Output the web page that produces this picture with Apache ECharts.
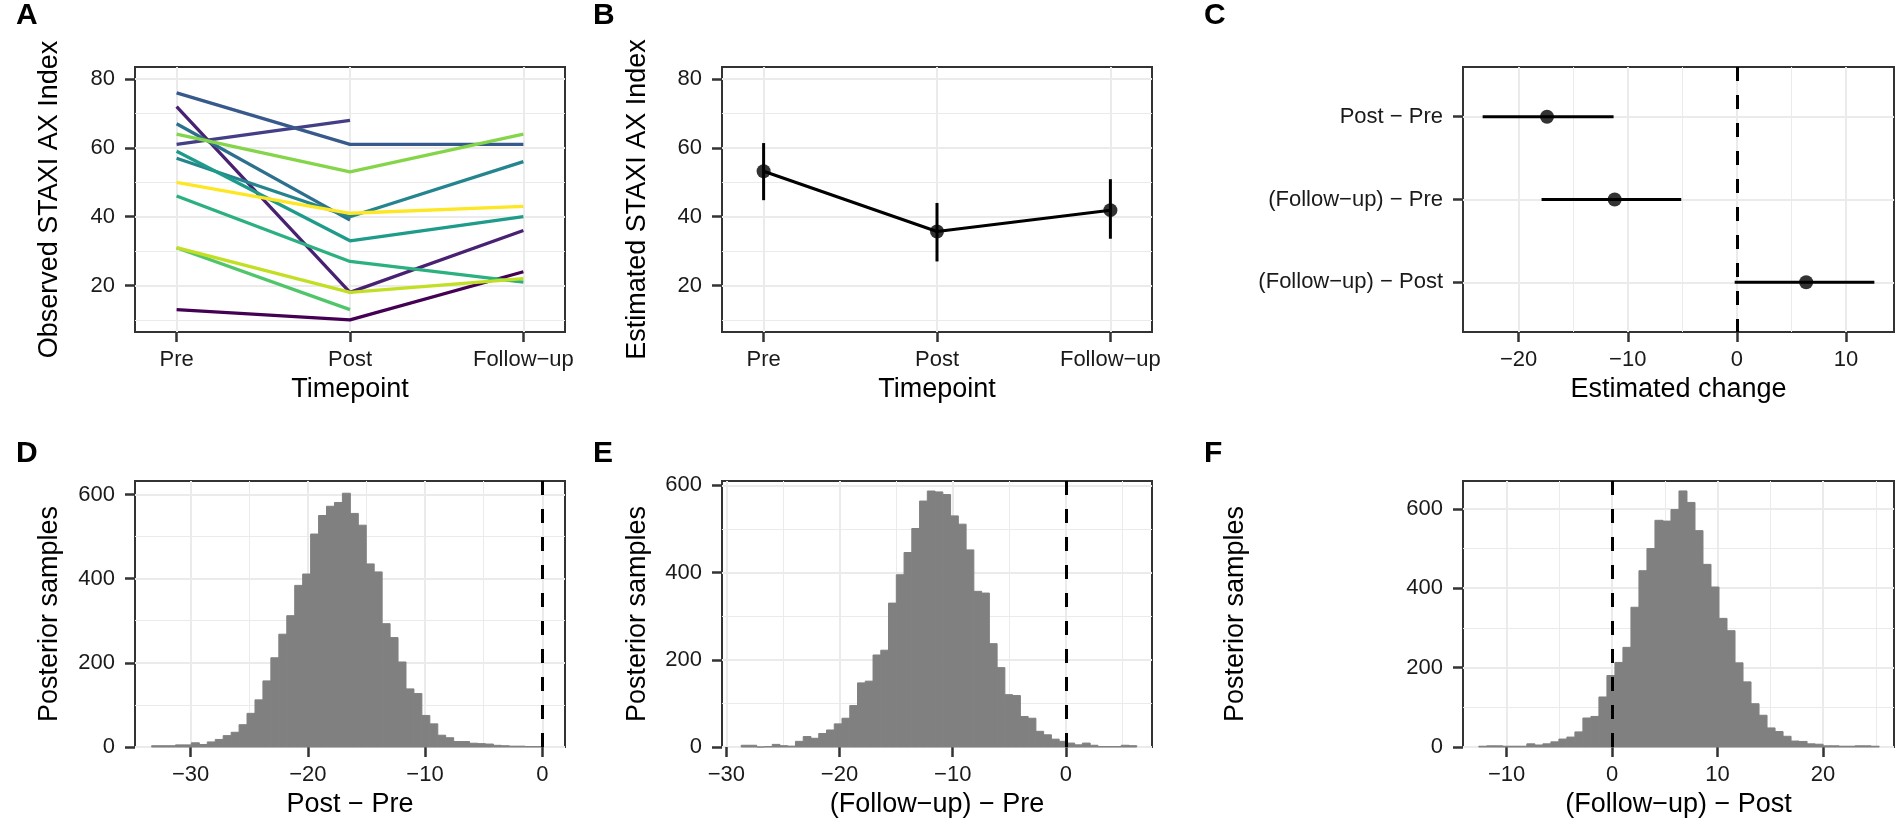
<!DOCTYPE html>
<html>
<head>
<meta charset="utf-8">
<title>STAXI AX Index</title>
<script src="https://cdn.jsdelivr.net/npm/echarts@6/dist/echarts.min.js"></script>
<style>
html, body { margin: 0; padding: 0; background: #fff; }
#main { width: 1901px; height: 830px; }
</style>
</head>
<body>
<div id="main"></div>
<script>
// A: observed values per subject (null = missing)
var timepoints = ['Pre', 'Post', 'Follow\u2212up'];
var obsPre      = [13, 72, 61, 76, 67, 57, 59, 46, 31, 64, 31, 50];
var obsPost     = [10, 18, 68, 61, 39, 40, 33, 27, 13, 53, 18, 41];
var obsFollowUp = [24, 36, null, 61, null, 56, 40, 21, null, 64, 22, 43];

// B: estimated index with intervals
var estMean = [53.2, 35.7, 41.9];
var estLow  = [44.8, 27.0, 33.6];
var estHigh = [61.4, 44.0, 50.9];

// C: estimated change
var contrasts = ['Post \u2212 Pre', '(Follow\u2212up) \u2212 Pre', '(Follow\u2212up) \u2212 Post'];
var chgMean = [-17.4, -11.2, 6.35];
var chgLow  = [-23.3, -17.9, -0.2];
var chgHigh = [-11.3, -5.1, 12.6];

// D, E, F: posterior sample histograms (first bin edge, bin width, counts)
var postPreStart = -33.32, postPreWidth = 0.678;
var postPreCounts = [3,3,3,5,5,10,6,12,18,27,35,53,80,112,157,212,268,312,384,411,506,550,572,581,603,555,527,435,416,293,260,202,138,127,75,55,28,22,13,13,9,8,7,4,3,2,2,1,1];
var fuPreStart = -28.685, fuPreWidth = 0.685;
var fuPreCounts = [4,4,0,1,6,3,2,13,24,20,31,39,53,66,95,147,151,211,222,330,395,446,501,564,587,585,579,530,511,452,357,353,237,182,120,118,70,66,36,28,18,13,9,5,9,4,1,1,1,4,3];
var fuPostStart = -12.63, fuPostWidth = 0.759;
var fuPostCounts = [2,3,3,2,2,2,8,5,8,13,20,25,38,73,77,126,180,213,251,352,444,500,571,569,598,645,616,545,460,403,324,293,212,164,109,80,48,39,27,15,14,8,7,3,3,2,2,3,3,2];

var subjectColors = ['#440154','#482173','#433E85','#38598C','#2D708E','#25858E','#1E9B8A','#2BB07F','#51C56A','#85D54A','#C2DF23','#FDE725'];
var FONT = '"Liberation Sans", Arial, sans-serif';

function minus(v) {
    return v < 0 ? '\u2212' + Math.abs(v) : String(v);
}

// main axis + a hidden twin that only draws the minor grid
function makeAxes(g, o) {
    var main = {
        type: 'value', gridIndex: g, min: o.min, max: o.max, inverse: !!o.inverse,
        axisLine: { show: false, onZero: false },
        axisTick: { show: true, customValues: o.major, length: 10, lineStyle: { color: '#333', width: 2.5 } },
        axisLabel: { customValues: o.major, formatter: o.fmt || minus, margin: o.margin, fontSize: 22, color: '#1a1a1a', fontFamily: FONT },
        splitLine: { show: true, lineStyle: { color: '#EBEBEB', width: 2 } },
        name: o.name, nameLocation: 'middle', nameGap: o.nameGap,
        nameTextStyle: { fontSize: 27, color: '#000', fontFamily: FONT }
    };
    var minor = {
        type: 'value', gridIndex: g, min: o.min, max: o.max, inverse: !!o.inverse,
        axisLine: { show: false, onZero: false },
        axisTick: { show: false, customValues: o.minor || [] },
        axisLabel: { show: false, customValues: o.minor || [] },
        splitLine: { show: !!(o.minor && o.minor.length), lineStyle: { color: '#EBEBEB', width: 1 } }
    };
    return [main, minor];
}

function histItem(params, api) {
    var p0 = api.coord([api.value(0), api.value(2)]);
    var p1 = api.coord([api.value(1), 0]);
    return {
        type: 'rect',
        shape: { x: p0[0], y: p0[1], width: p1[0] - p0[0], height: p1[1] - p0[1] },
        style: { fill: '#808080', stroke: '#808080', lineWidth: 1 }
    };
}

function histSeries(g, start, width, counts) {
    var data = counts.map(function (n, i) {
        return [start + i * width, start + (i + 1) * width, n];
    });
    return {
        type: 'custom', xAxisIndex: 2 * g, yAxisIndex: 2 * g, silent: true,
        encode: { x: [0, 1], y: 2 }, data: data, renderItem: histItem
    };
}

function zeroLine(g) {
    return {
        type: 'line', xAxisIndex: 2 * g, yAxisIndex: 2 * g, data: [], silent: true,
        markLine: {
            silent: true, symbol: 'none', label: { show: false },
            lineStyle: { color: '#000', width: 3, type: [14, 14] },
            data: [{ xAxis: 0 }]
        }
    };
}

var gridBox = { show: true, borderColor: '#333', borderWidth: 2, backgroundColor: '#fff', outerBoundsMode: 'none' };
var grids = [
    { left: 135,  top: 67,  width: 430, height: 265 },
    { left: 722,  top: 67,  width: 430, height: 265 },
    { left: 1463, top: 67,  width: 431, height: 265 },
    { left: 135,  top: 481, width: 430, height: 266 },
    { left: 722,  top: 481, width: 430, height: 266 },
    { left: 1463, top: 481, width: 431, height: 266 }
].map(function (g) { return Object.assign({}, gridBox, g); });

function tpName(v) { return timepoints[v]; }
function ctName(v) { return contrasts[v]; }

var xAxes = [].concat(
    makeAxes(0, { min: -0.24, max: 2.24, major: [0, 1, 2], fmt: tpName, margin: 17, name: 'Timepoint', nameGap: 44 }),
    makeAxes(1, { min: -0.24, max: 2.24, major: [0, 1, 2], fmt: tpName, margin: 17, name: 'Timepoint', nameGap: 44 }),
    makeAxes(2, { min: -25.1, max: 14.4, major: [-20, -10, 0, 10], minor: [-15, -5, 5], margin: 17, name: 'Estimated change', nameGap: 44 }),
    makeAxes(3, { min: -34.74, max: 1.94, major: [-30, -20, -10, 0], minor: [-25, -15, -5], margin: 17, name: 'Post \u2212 Pre', nameGap: 44 }),
    makeAxes(4, { min: -30.38, max: 7.6, major: [-30, -20, -10, 0], minor: [-25, -15, -5, 5], margin: 17, name: '(Follow\u2212up) \u2212 Pre', nameGap: 44 }),
    makeAxes(5, { min: -14.13, max: 26.73, major: [-10, 0, 10, 20], minor: [-5, 5, 15, 25], margin: 17, name: '(Follow\u2212up) \u2212 Post', nameGap: 44 })
);
var yAxes = [].concat(
    makeAxes(0, { min: 6.5, max: 83.5, major: [20, 40, 60, 80], minor: [10, 30, 50, 70], margin: 20, name: 'Observed STAXI AX Index', nameGap: 72 }),
    makeAxes(1, { min: 6.5, max: 83.5, major: [20, 40, 60, 80], minor: [10, 30, 50, 70], margin: 20, name: 'Estimated STAXI AX Index', nameGap: 71 }),
    makeAxes(2, { min: -0.6, max: 2.6, inverse: true, major: [0, 1, 2], fmt: ctName, margin: 20, name: '', nameGap: 0 }),
    makeAxes(3, { min: 0, max: 632, major: [0, 200, 400, 600], minor: [100, 300, 500], margin: 20, name: 'Posterior samples', nameGap: 72 }),
    makeAxes(4, { min: 0, max: 610, major: [0, 200, 400, 600], minor: [100, 300, 500], margin: 20, name: 'Posterior samples', nameGap: 71 }),
    makeAxes(5, { min: 0, max: 670, major: [0, 200, 400, 600], minor: [100, 300, 500], margin: 20, name: 'Posterior samples', nameGap: 214 })
);

var series = [];

// A: one line per subject
obsPre.forEach(function (v, i) {
    series.push({
        type: 'line', xAxisIndex: 0, yAxisIndex: 0, silent: true, showSymbol: false,
        data: [[0, v], [1, obsPost[i]], [2, obsFollowUp[i]]],
        lineStyle: { color: subjectColors[i], width: 3.3 }
    });
});

// B
series.push({
    type: 'line', xAxisIndex: 2, yAxisIndex: 2, silent: true, showSymbol: false,
    data: estMean.map(function (v, i) { return [i, v]; }),
    lineStyle: { color: '#000', width: 3 }
});
series.push({
    type: 'custom', xAxisIndex: 2, yAxisIndex: 2, silent: true,
    encode: { x: 0, y: [1, 2] },
    data: estMean.map(function (v, i) { return [i, estLow[i], estHigh[i]]; }),
    renderItem: function (params, api) {
        var a = api.coord([api.value(0), api.value(1)]);
        var b = api.coord([api.value(0), api.value(2)]);
        return { type: 'line', shape: { x1: a[0], y1: a[1], x2: b[0], y2: b[1] }, style: { stroke: '#000', lineWidth: 3 } };
    }
});
series.push({
    type: 'scatter', xAxisIndex: 2, yAxisIndex: 2, silent: true, symbolSize: 14,
    itemStyle: { color: '#000' },
    data: estMean.map(function (v, i) { return [i, v]; })
});

// C
series.push(zeroLine(2));
series.push({
    type: 'custom', xAxisIndex: 4, yAxisIndex: 4, silent: true,
    encode: { x: [0, 1], y: 2 },
    data: chgMean.map(function (v, i) { return [chgLow[i], chgHigh[i], i]; }),
    renderItem: function (params, api) {
        var a = api.coord([api.value(0), api.value(2)]);
        var b = api.coord([api.value(1), api.value(2)]);
        return { type: 'line', shape: { x1: a[0], y1: a[1], x2: b[0], y2: b[1] }, style: { stroke: '#000', lineWidth: 3 } };
    }
});
series.push({
    type: 'scatter', xAxisIndex: 4, yAxisIndex: 4, silent: true, symbolSize: 14,
    itemStyle: { color: '#000' },
    data: chgMean.map(function (v, i) { return [v, i]; })
});

// D, E, F
series.push(histSeries(3, postPreStart, postPreWidth, postPreCounts));
series.push(zeroLine(3));
series.push(histSeries(4, fuPreStart, fuPreWidth, fuPreCounts));
series.push(zeroLine(4));
series.push(histSeries(5, fuPostStart, fuPostWidth, fuPostCounts));
series.push(zeroLine(5));

function tag(t, x, y) {
    return { type: 'text', left: x, top: y, style: { text: t, fill: '#000', font: 'bold 30px ' + FONT } };
}

var option = {
    animation: false,
    backgroundColor: '#fff',
    textStyle: { fontFamily: FONT },
    grid: grids,
    xAxis: xAxes,
    yAxis: yAxes,
    series: series,
    graphic: [
        tag('A', 16, 1), tag('B', 593, 1), tag('C', 1204, 1),
        tag('D', 16, 439), tag('E', 593, 439), tag('F', 1204, 439)
    ]
};

var chart = echarts.init(document.getElementById('main'));
chart.setOption(option);
</script>
</body>
</html>
